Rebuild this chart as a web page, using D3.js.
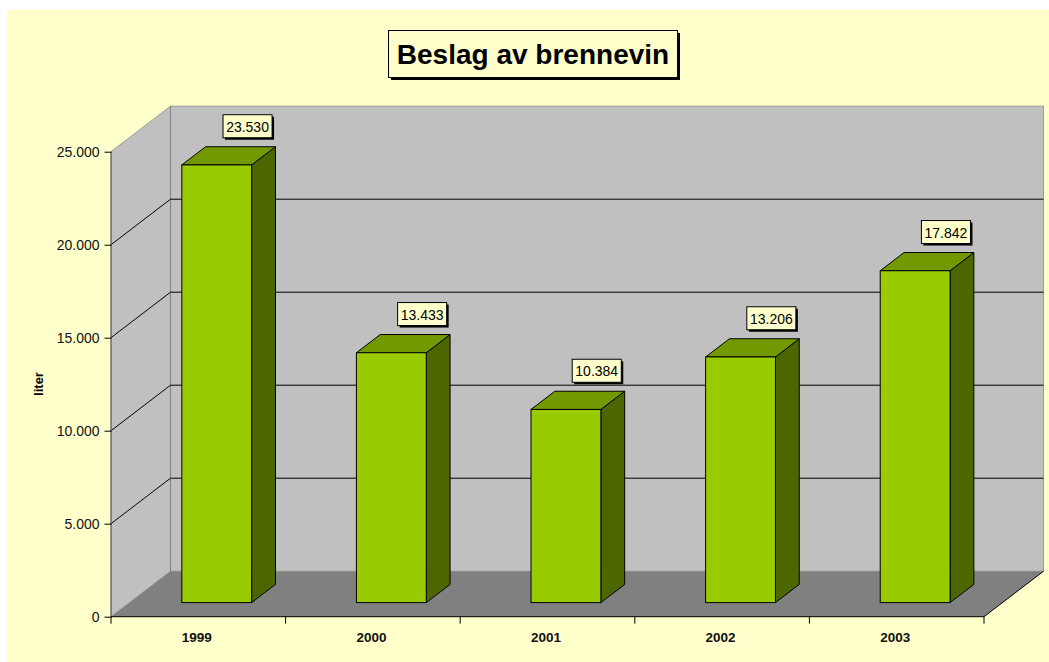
<!DOCTYPE html>
<html><head><meta charset="utf-8">
<script src="https://cdn.jsdelivr.net/npm/d3@7"></script>
<style>html,body{margin:0;padding:0;background:#fff;}svg{display:block;}</style>
</head><body>
<svg id="chart" width="1049" height="662"></svg>
<script>
const categories = ["1999", "2000", "2001", "2002", "2003"];
const values = [23530, 13433, 10384, 13206, 17842];
const valueLabels = ["23.530", "13.433", "10.384", "13.206", "17.842"];
const yTicks = [0, 5000, 10000, 15000, 20000, 25000];
const yTickLabels = ["0", "5.000", "10.000", "15.000", "20.000", "25.000"];
const titleText = "Beslag av brennevin";
const yAxisTitle = "liter";

const svg = d3.select("#chart");
const FONT = "'Liberation Sans', Arial, sans-serif";
const DX = 59.5, DY = -45.5;   // depth offset
const fFront = 0.31, fBack = 0.71;

const y = d3.scaleLinear().domain([0, 25000]).range([616.7, 151.7]);
const x = d3.scaleBand().domain(categories).range([111, 984]);
const x0 = 111, x1 = 984, yB = y(0), yT = y(25000);

// background
svg.append("rect").attr("x", 7).attr("y", 10).attr("width", 1042).attr("height", 652).attr("fill", "#FFFFCC");

// back wall
svg.append("rect").attr("x", x0 + DX).attr("y", yT + DY).attr("width", x1 - x0).attr("height", yB - yT)
  .attr("fill", "#C0C0C0").attr("stroke", "#9a9a9a").attr("stroke-width", 1);
// left wall
svg.append("polygon").attr("points", [[x0, yT], [x0 + DX, yT + DY], [x0 + DX, yB + DY], [x0, yB]].join(" "))
  .attr("fill", "#C0C0C0").attr("stroke", "#9a9a9a").attr("stroke-width", 1);
svg.append("line").attr("x1", x0 + DX).attr("x2", x0 + DX).attr("y1", yT + DY).attr("y2", yB + DY)
  .attr("stroke", "#808080");
// floor
svg.append("polygon").attr("points", [[x0, yB], [x1, yB], [x1 + DX, yB + DY], [x0 + DX, yB + DY]].join(" "))
  .attr("fill", "#808080");
svg.append("line").attr("x1", x1).attr("y1", yB).attr("x2", x1 + DX).attr("y2", yB + DY)
  .attr("stroke", "#000").attr("stroke-width", 1);

// gridlines
const grid = yTicks.filter(t => t > 0 && t < 25000);
grid.forEach(t => {
  const yy = y(t);
  svg.append("polyline").attr("points", [[x0, yy], [x0 + DX, yy + DY], [x1 + DX, yy + DY]].join(" "))
    .attr("fill", "none").attr("stroke", "#000").attr("stroke-width", 1);
});

// y axis
svg.append("line").attr("x1", x0).attr("x2", x0).attr("y1", yT).attr("y2", yB).attr("stroke", "#555");
const yAxis = d3.axisLeft(y).tickValues(yTicks).tickSize(7).tickPadding(5)
  .tickFormat((d, i) => yTickLabels[i]);
const yg = svg.append("g").attr("transform", `translate(${x0 + 0.5},0)`).call(yAxis);
yg.select(".domain").remove();
yg.selectAll("line").attr("stroke", "#000");
yg.selectAll("text").attr("font-family", FONT).attr("font-size", 14).attr("fill", "#111");

// x axis
const xg = svg.append("g").attr("transform", `translate(0,${yB})`);
xg.append("line").attr("x1", x0).attr("x2", x1).attr("y1", 0).attr("y2", 0).attr("stroke", "#000");
const bounds = categories.map(c => x(c)).concat([x1]);
bounds.forEach(b => {
  xg.append("line").attr("x1", b).attr("x2", b).attr("y1", 0).attr("y2", 7).attr("stroke", "#000");
});
xg.selectAll("text.cat").data(categories).enter().append("text").attr("class", "cat")
  .attr("x", d => x(d) + x.bandwidth() / 2 - 1.5).attr("y", 25)
  .attr("text-anchor", "middle").attr("font-family", FONT).attr("font-weight", "bold")
  .attr("font-size", 13.5).attr("fill", "#111").text(d => d);

// y axis title
svg.append("text").attr("transform", "translate(43,384) rotate(-90)")
  .attr("text-anchor", "middle").attr("font-family", FONT).attr("font-weight", "bold")
  .attr("font-size", 13).attr("fill", "#000").text(yAxisTitle);

// bars
const bw = x.bandwidth() * 0.4;
const bd = { dx: DX * (fBack - fFront), dy: DY * (fBack - fFront) };
const bars = svg.append("g");
categories.forEach((c, i) => {
  const left = x(c) + x.bandwidth() / 2 - bw / 2 + DX * fFront;
  const right = left + bw;
  const bot = yB + DY * fFront;
  const top = y(values[i]) + DY * fFront;
  const g = bars.append("g");
  // side
  g.append("polygon").attr("points", [[right, top], [right + bd.dx, top + bd.dy], [right + bd.dx, bot + bd.dy], [right, bot]].join(" "))
    .attr("fill", "#4C6600").attr("stroke", "#000").attr("stroke-width", 1).attr("stroke-linejoin", "round");
  // top
  g.append("polygon").attr("points", [[left, top], [left + bd.dx, top + bd.dy], [right + bd.dx, top + bd.dy], [right, top]].join(" "))
    .attr("fill", "#739900").attr("stroke", "#000").attr("stroke-width", 1).attr("stroke-linejoin", "round");
  // front
  g.append("rect").attr("x", left).attr("y", top).attr("width", bw).attr("height", bot - top)
    .attr("fill", "#99CC00").attr("stroke", "#000").attr("stroke-width", 1);

  // label
  const cx = left + bd.dx + bw / 2 + 7;
  const by = top + bd.dy - 9;
  const lg = svg.append("g");
  const t = lg.append("text").attr("x", cx).attr("y", by - 6).attr("text-anchor", "middle")
    .attr("font-family", FONT).attr("font-size", 14).attr("fill", "#000").text(valueLabels[i]);
  const bb = t.node().getBBox();
  const w = bb.width + 6, h = 23;
  lg.insert("rect", "text").attr("x", cx - w / 2 + 2).attr("y", by - h + 2).attr("width", w).attr("height", h).attr("fill", "#000");
  lg.insert("rect", "text").attr("x", cx - w / 2).attr("y", by - h).attr("width", w).attr("height", h)
    .attr("fill", "#FFFFCC").attr("stroke", "#000").attr("stroke-width", 1);
});

// title
const tg = svg.append("g");
tg.append("rect").attr("x", 391).attr("y", 33).attr("width", 289).attr("height", 47).attr("fill", "#000");
tg.append("rect").attr("x", 388.5).attr("y", 30.5).attr("width", 289).attr("height", 47)
  .attr("fill", "#FFFFCC").attr("stroke", "#000").attr("stroke-width", 1);
tg.append("text").attr("x", 533).attr("y", 64).attr("text-anchor", "middle")
  .attr("font-family", FONT).attr("font-weight", "bold").attr("font-size", 28).attr("fill", "#000").text(titleText);
</script>
</body></html>
